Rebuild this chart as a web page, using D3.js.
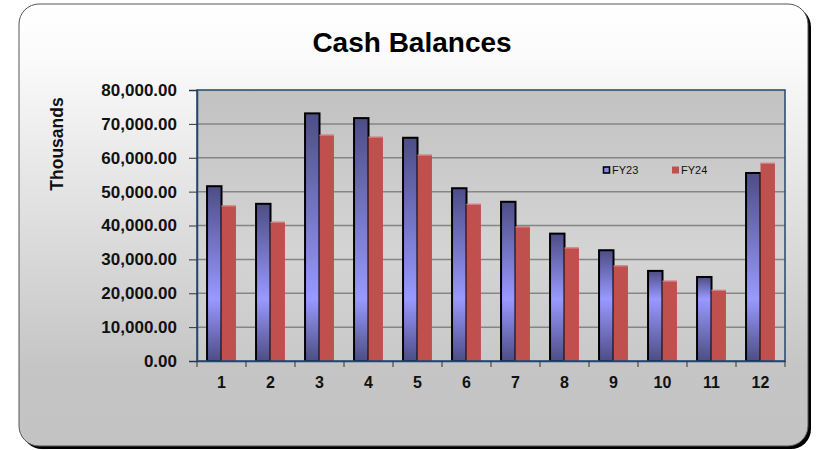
<!DOCTYPE html>
<html><head><meta charset="utf-8">
<script src="https://cdn.jsdelivr.net/npm/d3@7"></script>
<style>html,body{margin:0;padding:0;background:#fff;}svg{display:block;font-family:Arial,"Liberation Sans",sans-serif;}</style>
</head><body>
<svg id="c" width="817" height="450"></svg>
<script>
const categories = ["1","2","3","4","5","6","7","8","9","10","11","12"];
const seriesNames = ["FY23","FY24"];
const fy23 = [51600, 46400, 73100, 71700, 65900, 51000, 47000, 37600, 32700, 26600, 24800, 55500];
const fy24 = [45900, 41100, 66800, 66200, 60900, 46400, 39700, 33500, 28200, 23700, 21000, 58500];
const yTicks = [0, 10000, 20000, 30000, 40000, 50000, 60000, 70000, 80000];
const title = "Cash Balances";
const yTitle = "Thousands";

const svg = d3.select("#c");
const defs = svg.append("defs");

// background gradient
const bg = defs.append("linearGradient").attr("id","bg").attr("x1",0).attr("y1",0).attr("x2",0).attr("y2",1);
bg.append("stop").attr("offset",0).attr("stop-color","#ffffff");
bg.append("stop").attr("offset",0.12).attr("stop-color","#fbfbfb");
bg.append("stop").attr("offset",0.82).attr("stop-color","#c5c5c5");
bg.append("stop").attr("offset",1).attr("stop-color","#c3c3c3");

const pg = defs.append("linearGradient").attr("id","pg").attr("x1",0).attr("y1",0).attr("x2",0).attr("y2",1);
pg.append("stop").attr("offset",0).attr("stop-color","#c2c2c2");
pg.append("stop").attr("offset",0.6).attr("stop-color","#d4d4d4");
pg.append("stop").attr("offset",1).attr("stop-color","#c9c9c9");

// outer frame with shadow
svg.append("rect").attr("x",22).attr("y",7).attr("width",789).attr("height",442).attr("rx",20).attr("fill","#000");
svg.append("rect").attr("x",19).attr("y",4).attr("width",789).attr("height",442).attr("rx",20)
  .attr("fill","url(#bg)").attr("stroke","#555").attr("stroke-width",1);

const L=197, R=785, T=90, B=361;
const x0 = d3.scaleBand().domain(categories).range([L,R]).padding(0);
const y = d3.scaleLinear().domain([0,80000]).range([B,T]);
const groupW = x0.bandwidth()*0.59;
const x1 = d3.scaleBand().domain(seriesNames).range([(x0.bandwidth()-groupW)/2,(x0.bandwidth()+groupW)/2]).padding(0);

// plot area
svg.append("rect").attr("x",L).attr("y",T).attr("width",R-L).attr("height",B-T).attr("fill","url(#pg)");

// gridlines
svg.append("g").selectAll("line").data(yTicks.filter(d=>d>0 && d<80000)).join("line")
  .attr("x1",L).attr("x2",R).attr("y1",d=>y(d)).attr("y2",d=>y(d))
  .attr("stroke","#858585").attr("stroke-width",1.5);

// FY23 gradients per bar
fy23.forEach((v,i)=>{
  const top=y(v), h=B-top;
  const lightOff = Math.max(0.15, (h-62)/h);
  const g = defs.append("linearGradient").attr("id","g23_"+i).attr("x1",0).attr("y1",0).attr("x2",0).attr("y2",1);
  g.append("stop").attr("offset",0).attr("stop-color","#4d4d86");
  g.append("stop").attr("offset",lightOff).attr("stop-color","#9999ff");
  g.append("stop").attr("offset",1).attr("stop-color","#4d4d86");
});

const bars = svg.append("g");
bars.selectAll("rect.fy23").data(fy23).join("rect").attr("class","fy23")
  .attr("x",(d,i)=>x0(categories[i])+x1("FY23")).attr("y",d=>y(d))
  .attr("width",x1.bandwidth()).attr("height",d=>B-y(d))
  .attr("fill",(d,i)=>"url(#g23_"+i+")").attr("stroke","#000").attr("stroke-width",2);
bars.selectAll("rect.fy24").data(fy24).join("rect").attr("class","fy24")
  .attr("x",(d,i)=>x0(categories[i])+x1("FY24")).attr("y",d=>y(d))
  .attr("width",x1.bandwidth()).attr("height",d=>B-y(d))
  .attr("fill","#c0504d");
bars.selectAll("line.fy24t").data(fy24).join("line").attr("class","fy24t")
  .attr("x1",(d,i)=>x0(categories[i])+x1("FY24")).attr("x2",(d,i)=>x0(categories[i])+x1("FY24")+x1.bandwidth())
  .attr("y1",d=>y(d)+0.5).attr("y2",d=>y(d)+0.5).attr("stroke","#d48a88").attr("stroke-width",1);

// plot border
svg.append("rect").attr("x",L).attr("y",T).attr("width",R-L).attr("height",B-T)
  .attr("fill","none").attr("stroke","#23466e").attr("stroke-width",1.5);

// y axis
const yAxis = d3.axisLeft(y).tickValues(yTicks).tickSize(8).tickPadding(12)
  .tickFormat(d=>d3.format(",.2f")(d));
const ya = svg.append("g").attr("transform",`translate(${L},0)`).call(yAxis);
ya.select(".domain").attr("stroke","#23466e").attr("stroke-width",1.5);
ya.selectAll(".tick line").attr("stroke","#333").attr("stroke-width",1);
ya.selectAll(".tick text").attr("font-family","Arial, 'Liberation Sans', sans-serif").attr("font-size",17)
  .attr("font-weight","bold").attr("fill","#111");

// x axis
const xAxis = d3.axisBottom(x0).tickSize(0).tickPadding(16);
const xa = svg.append("g").attr("transform",`translate(0,${B})`).call(xAxis);
xa.select(".domain").attr("stroke","#23466e").attr("stroke-width",1.5);
xa.selectAll(".tick text").attr("font-family","Arial, 'Liberation Sans', sans-serif").attr("font-size",16)
  .attr("font-weight","bold").attr("fill","#111");
xa.selectAll("line.bt").data(categories.concat(["end"])).join("line").attr("class","bt")
  .attr("x1",(d,i)=>L+i*x0.step()).attr("x2",(d,i)=>L+i*x0.step()).attr("y1",0).attr("y2",6)
  .attr("stroke","#333").attr("stroke-width",1);

// title
svg.append("text").attr("x",412).attr("y",52).attr("text-anchor","middle")
  .attr("font-size",28).attr("font-weight","bold").attr("fill","#000").text(title);
svg.append("text").attr("transform","translate(63,144) rotate(-90)").attr("text-anchor","middle")
  .attr("font-size",17.5).attr("font-weight","bold").attr("fill","#111").text(yTitle);

// legend
const leg = svg.append("g");
const legX = [603, 672];
leg.append("rect").attr("x",legX[0]+0.5).attr("y",167).attr("width",6).attr("height",6)
  .attr("fill","#8888ee").attr("stroke","#000").attr("stroke-width",1.6);
leg.append("rect").attr("x",legX[1]).attr("y",166.5).attr("width",7).attr("height",7).attr("fill","#c0504d");
leg.selectAll("text").data(seriesNames).join("text")
  .attr("x",(d,i)=>legX[i]+9).attr("y",174).attr("font-size",11).attr("fill","#111").text(d=>d);
</script>
</body></html>
